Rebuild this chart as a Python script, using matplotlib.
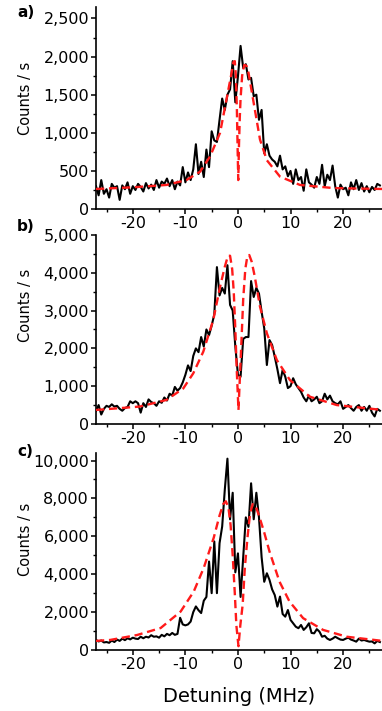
# Resonance fluorescence spectra (three panels), counts vs detuning

import numpy as np
import matplotlib
matplotlib.use('Agg')
import matplotlib.pyplot as plt
from matplotlib.ticker import MultipleLocator, FuncFormatter

plt.rcParams['font.family'] = ['DejaVu Sans']
plt.rcParams['axes.unicode_minus'] = False

# detuning grid of the measured points (MHz)
detuning = np.arange(-27, 27.01, 0.5)

# measured counts / s
counts_a = [300, 180, 380, 200, 260, 150, 330, 280, 300, 120, 310, 260, 350, 200, 300, 250,
            330, 290, 230, 340, 270, 320, 250, 380, 280, 360, 330, 400, 300, 380, 260, 360,
            310, 550, 350, 480, 380, 520, 850, 460, 620, 420, 780, 550, 1020, 900, 880, 1170,
            1450, 1300, 1500, 1570, 1940, 1400, 1740, 2140, 1850, 1900, 1700, 1720, 1480, 1500,
            1170, 1300, 730, 850, 700, 650, 620, 560, 700, 520, 560, 430, 500, 330, 520, 380,
            420, 240, 520, 350, 320, 280, 420, 330, 580, 300, 450, 380, 570, 300, 150, 320,
            260, 280, 180, 350, 260, 380, 250, 340, 230, 300, 220, 290, 250, 330, 310]

counts_b = [350, 500, 250, 400, 480, 450, 520, 460, 480, 400, 350, 420, 450, 600, 550, 600,
            550, 300, 550, 450, 650, 580, 550, 480, 600, 560, 700, 620, 800, 750, 980, 880,
            950, 1100, 1300, 1550, 1400, 1800, 2000, 1900, 2300, 2050, 2500, 2350, 2600, 2900,
            4150, 3400, 3600, 3450, 4200, 3150, 3000, 2050, 1300, 1250, 2250, 2300, 2300, 3780,
            3360, 3600, 3450, 2970, 2530, 1560, 2220, 2090, 1780, 1450, 1080, 1430, 1250, 950,
            1000, 1210, 1050, 950, 850, 700, 600, 750, 600, 650, 720, 550, 600, 800, 650, 750,
            600, 550, 520, 600, 400, 450, 500, 420, 350, 450, 500, 350, 450, 350, 480, 300,
            200, 400, 350]

counts_c = [530, 450, 500, 400, 420, 380, 500, 420, 550, 480, 600, 520, 620, 560, 650, 600,
            580, 700, 620, 700, 660, 780, 700, 720, 650, 800, 720, 850, 780, 900, 800, 850,
            1700, 1350, 1300, 1350, 1500, 2000, 2300, 2100, 1950, 2600, 2800, 4670, 3000, 5730,
            3000, 5640, 6520, 8470, 10100, 6900, 8300, 4100, 5100, 2800, 4900, 7000, 6500, 8800,
            6900, 8300, 7000, 4900, 3600, 4050, 3700, 3200, 2900, 2290, 2820, 1900, 1760, 2110,
            1590, 1410, 1230, 1150, 1320, 1060, 1200, 1410, 900, 880, 1100, 970, 700, 750, 600,
            530, 600, 700, 620, 550, 530, 600, 650, 550, 500, 440, 600, 500, 530, 480, 440, 450,
            350, 480, 420]

# fitted curves (red dashed)
fit_a_x = [-27, -20, -13.6, -9.8, -7.2, -5.3, -3.4, -2.2, -1.2, -0.85, -0.6, -0.4, -0.2, -0.05,
           0.06, 0.2, 0.35, 0.5, 0.8, 1.2, 1.6, 2.0, 2.9, 4.2, 5.5, 8.0, 11.8, 18.2, 27.5]
fit_a_y = [263, 285, 316, 380, 490, 690, 1000, 1430, 1790, 1930, 1940, 1750, 1300, 750,
           380, 850, 1200, 1450, 1750, 1890, 1880, 1790, 1430, 910, 640, 425, 316, 275, 263]

fit_b_x = [-27, -18.7, -13.6, -10.4, -8.5, -6.6, -4.7, -3.4, -2.5, -1.9, -1.5, -1.1, -0.8, -0.5,
           -0.25, 0.1, 0.45, 0.7, 1.0, 1.4, 1.8, 2.15, 2.6, 3.2, 4.2, 5.5, 7.4, 9.9, 13.7, 18.8, 27.5]
fit_b_y = [370, 460, 635, 940, 1340, 1910, 2750, 3630, 4160, 4450, 4450, 4100, 3500, 2500,
           1500, 370, 1500, 2300, 3300, 4100, 4450, 4470, 4300, 3900, 3100, 2400, 1690, 1160, 720, 500, 370]

fit_c_x = [-27, -24.3, -19.2, -14.7, -10.9, -8.4, -6.5, -4.6, -3.5, -2.8, -2.3, -1.8, -1.4, -1.0,
           -0.6, -0.3, 0.1, 0.45, 0.9, 1.3, 1.8, 2.3, 2.8, 3.3, 4.0, 5.0, 6.0, 7.9, 9.8, 12.4,
           16.2, 20.7, 27.5]
fit_c_y = [480, 530, 790, 1160, 2030, 3090, 4340, 5930, 7100, 7700, 7850, 7500, 6600, 5000,
           3000, 1300, 200, 1300, 2400, 4300, 5900, 7200, 7700, 7650, 7100, 6200, 5200, 3610, 2560, 1680,
           1060, 700, 480]

panels = [
    ('a)', counts_a, fit_a_x, fit_a_y, 2650, 500, 250, [0.2513, 0.7060, 0.7487, 0.2841], 0.55, 0.983),
    ('b)', counts_b, fit_b_x, fit_b_y, 5000, 1000, 500, [0.2513, 0.4037, 0.7487, 0.2658], 0.63, 0.681),
    ('c)', counts_c, fit_c_x, fit_c_y, 10400, 2000, 1000, [0.2513, 0.0858, 0.7487, 0.2771], 0.56, 0.365),
]

fig = plt.figure(figsize=(3.82, 7.11), dpi=100)

for label, counts, fx, fy, ytop, major, minor, pos, ylab_y, label_y in panels:
    ax = fig.add_axes(pos)
    ax.plot(detuning, counts, color='black', lw=1.5, zorder=2)
    ax.plot(fx, fy, color='#ff1a1a', lw=1.7, ls=(0, (3.5, 2)), zorder=3)
    ax.set_xlim(-27, 27.4)
    ax.set_ylim(0, ytop)
    ax.spines['top'].set_visible(False)
    ax.spines['right'].set_visible(False)
    ax.spines['left'].set_linewidth(1.2)
    ax.spines['bottom'].set_linewidth(1.2)
    ax.xaxis.set_major_locator(MultipleLocator(10))
    ax.xaxis.set_minor_locator(MultipleLocator(5))
    ax.yaxis.set_major_locator(MultipleLocator(major))
    ax.yaxis.set_minor_locator(MultipleLocator(minor))
    ax.yaxis.set_major_formatter(FuncFormatter(lambda v, p: '{:,.0f}'.format(v)))
    ax.tick_params(which='major', direction='out', length=3.5, width=1.1, labelsize=11.5, pad=1.5)
    ax.tick_params(which='minor', direction='out', length=2, width=1.0)
    ax.set_ylabel('Counts / s', fontsize=10.5)
    ax.yaxis.set_label_coords(-0.22, ylab_y)
    fig.text(0.045, label_y, label, fontsize=11, fontweight='bold', va='center')

ax.set_xlabel('Detuning (MHz)', fontsize=14, labelpad=11)

fig.savefig('out.png', dpi=100)
